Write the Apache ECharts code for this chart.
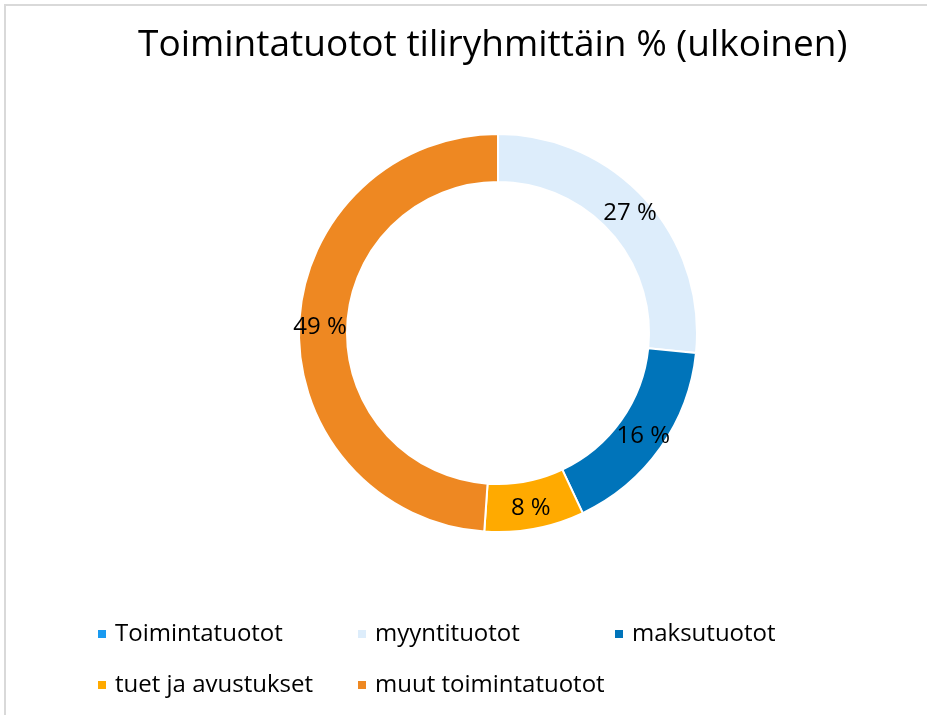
<!DOCTYPE html>
<html>
<head>
<meta charset="utf-8">
<script src="https://cdn.jsdelivr.net/npm/echarts@6/dist/echarts.min.js"></script>
<style>
  html, body { margin: 0; padding: 0; background: #fff; }
  #frame {
    position: absolute; left: 4px; top: 4px; width: 940px; height: 730px;
    border: 2px solid #d9d9d9; box-sizing: border-box;
  }
  #chart { position: absolute; left: 0; top: 0; width: 927px; height: 715px; }
</style>
</head>
<body>
<div id="frame"></div>
<div id="chart"></div>
<script>
const titleText = 'Toimintatuotot tiliryhmittäin % (ulkoinen)';
const categories = ['Toimintatuotot', 'myyntituotot', 'maksutuotot', 'tuet ja avustukset', 'muut toimintatuotot'];
const shares = [0, 26.6, 16.4, 8.1, 48.9];
const colors = ['#1a9af0', '#ddedfb', '#0074ba', '#ffaa00', '#ee8822'];

const font = '"Open Sans", "Noto Sans", sans-serif';

// legend slots: 3 per row, fixed columns like the original
const legendLeft = [96, 356, 613];
const legendTop = [622, 673];

const chart = echarts.init(document.getElementById('chart'));

const pieData = categories.map((name, i) => ({
  name: name,
  value: shares[i],
  itemStyle: { color: colors[i] },
  label: { show: shares[i] > 0 },
}));

const legends = categories.map((name, i) => ({
  left: legendLeft[i % 3],
  top: legendTop[Math.floor(i / 3)],
  padding: 0,
  data: [name],
  icon: 'rect',
  itemWidth: 10,
  itemHeight: 10,
  textStyle: { fontFamily: font, fontSize: 24, color: '#000', padding: [0, 0, 0, 3] },
  selectedMode: false,
}));

chart.setOption({
  animation: false,
  color: colors,
  title: {
    text: titleText,
    left: 138,
    top: 27,
    padding: 0,
    textStyle: { fontFamily: font, fontSize: 37, fontWeight: 'normal', color: '#000' },
  },
  legend: legends,
  series: [
    {
      type: 'pie',
      center: [498, 333],
      radius: [151, 199],
      startAngle: 90,
      clockwise: true,
      avoidLabelOverlap: false,
      itemStyle: { borderColor: '#fff', borderWidth: 2 },
      label: {
        position: 'inside',
        formatter: (p) => Math.round(p.percent) + ' %',
        fontFamily: font,
        fontSize: 24,
        color: '#000',
      },
      labelLine: { show: false },
      data: pieData,
    },
  ],
});
</script>
</body>
</html>
